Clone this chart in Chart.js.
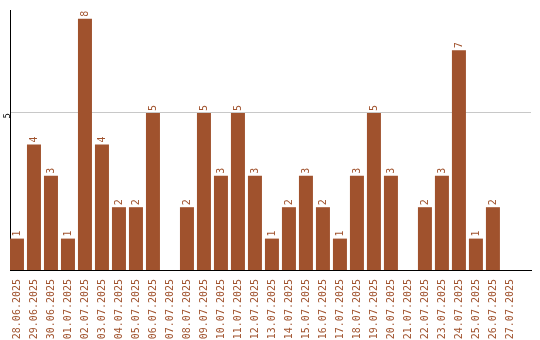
<!DOCTYPE html>
<html>
<head>
<meta charset="utf-8">
<script src="https://cdn.jsdelivr.net/npm/chart.js@4"></script>
<style>
  html, body { margin: 0; padding: 0; background: #fff; }
  #wrap { width: 540px; height: 340px; }
</style>
</head>
<body>
<div id="wrap"><canvas id="myBarChart"></canvas></div>
<script>
const days = [
    "28.06.2025", "29.06.2025", "30.06.2025", "01.07.2025", "02.07.2025",
    "03.07.2025", "04.07.2025", "05.07.2025", "06.07.2025", "07.07.2025",
    "08.07.2025", "09.07.2025", "10.07.2025", "11.07.2025", "12.07.2025",
    "13.07.2025", "14.07.2025", "15.07.2025", "16.07.2025", "17.07.2025",
    "18.07.2025", "19.07.2025", "20.07.2025", "21.07.2025", "22.07.2025",
    "23.07.2025", "24.07.2025", "25.07.2025", "26.07.2025", "27.07.2025"
];
const counts = [1, 4, 3, 1, 8, 4, 2, 2, 5, 0, 2, 5, 3, 5, 3, 1, 2, 3, 2, 1, 3, 5, 3, 0, 2, 3, 7, 1, 2, 0];
const yTicks = [5];

const barColor = '#a0522d';
const monoFont = '"DejaVu Sans Mono", monospace';

// small value labels above each bar, rotated like the axis labels
const valueLabels = {
    id: 'valueLabels',
    afterDatasetsDraw(chart) {
        const ctx = chart.ctx;
        const meta = chart.getDatasetMeta(0);
        ctx.save();
        ctx.fillStyle = barColor;
        ctx.font = '10px ' + monoFont;
        ctx.textAlign = 'left';
        ctx.textBaseline = 'middle';
        meta.data.forEach((bar, i) => {
            if (!counts[i]) return;
            ctx.save();
            ctx.translate(bar.x, bar.y - 2);
            ctx.rotate(-Math.PI / 2);
            ctx.fillText(String(counts[i]), 0, 0);
            ctx.restore();
        });
        ctx.restore();
    }
};

const barConfig = {
    type: 'bar',
    data: {
        datasets: [{
            data: counts.map((c, i) => ({ x: i, y: c })),
            backgroundColor: barColor,
            barPercentage: 0.8235,
            categoryPercentage: 1.0
        }]
    },
    options: {
        responsive: true,
        maintainAspectRatio: false,
        animation: false,
        layout: { padding: { top: 10, right: 9, left: 0, bottom: 0 } },
        scales: {
            // linear x so the day slots keep the same pitch and leave room at the right
            x: {
                type: 'linear',
                offset: false,
                min: -0.41,
                max: 30.24,
                grid: { display: false },
                border: { color: '#000', width: 1 },
                afterBuildTicks(scale) {
                    scale.ticks = days.map((d, i) => ({ value: i }));
                },
                ticks: {
                    color: barColor,
                    font: { family: monoFont, size: 10 },
                    minRotation: 90,
                    maxRotation: 90,
                    autoSkip: false,
                    padding: 1,
                    callback: (v) => days[v]
                },
                afterFit(scale) { scale.height = 70; }
            },
            y: {
                min: 0,
                max: 8.28,
                grid: { color: '#c8c8c8', drawTicks: false },
                border: { color: '#000', width: 1 },
                afterBuildTicks(scale) {
                    scale.ticks = yTicks.map(v => ({ value: v }));
                },
                ticks: {
                    color: '#000',
                    font: { family: monoFont, size: 9 },
                    minRotation: 90,
                    maxRotation: 90,
                    padding: 2
                },
                afterFit(scale) { scale.width = 10; }
            }
        },
        plugins: {
            legend: { display: false },
            tooltip: { enabled: false }
        }
    },
    plugins: [valueLabels]
};

var ctx = document.getElementById("myBarChart");
var myBarChart = new Chart(ctx, barConfig);
</script>
</body>
</html>
